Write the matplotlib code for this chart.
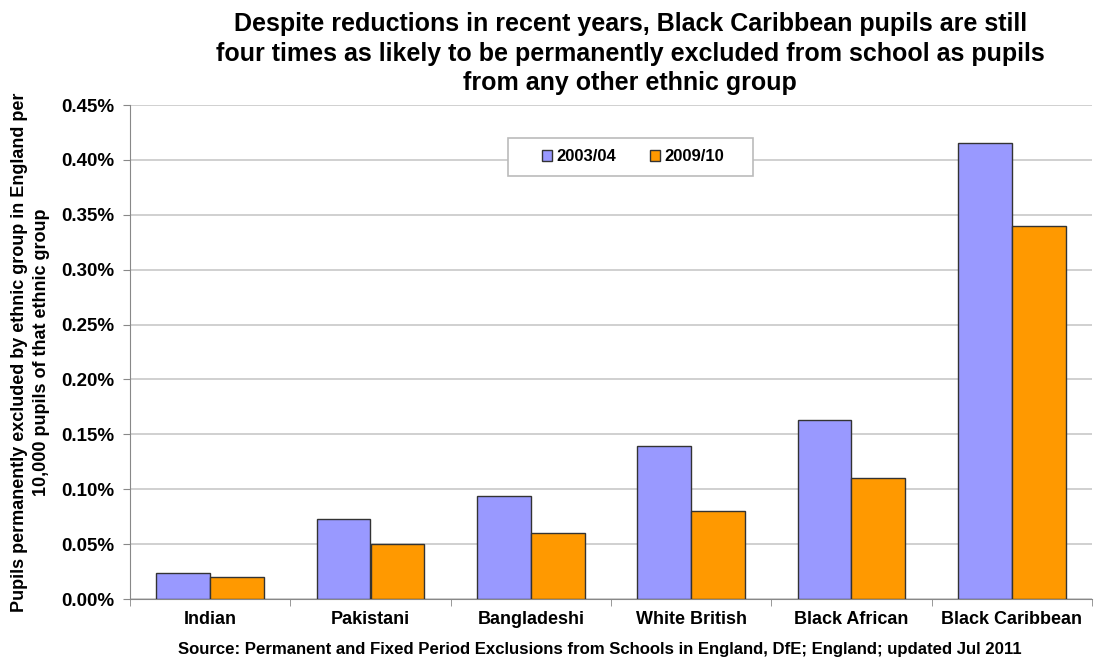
import matplotlib.pyplot as plt
import numpy as np
from matplotlib.patches import Rectangle
from matplotlib.ticker import FuncFormatter

plt.rcParams['font.family'] = ['Liberation Sans', 'DejaVu Sans']
plt.rcParams['font.weight'] = 'bold'

groups = ['Indian', 'Pakistani', 'Bangladeshi', 'White British', 'Black African', 'Black Caribbean']
rate_2003 = [0.024, 0.073, 0.094, 0.139, 0.163, 0.415]
rate_2009 = [0.020, 0.050, 0.060, 0.080, 0.110, 0.340]
series_names = ['2003/04', '2009/10']

fig = plt.figure(figsize=(10.94, 6.64), dpi=100)
ax = fig.add_axes([130 / 1094, 65 / 664, 962 / 1094, 494 / 664])

x = np.arange(len(groups))
w = 0.335
ax.bar(x - w / 2, rate_2003, w, color='#9999FF', edgecolor='#333333', linewidth=1,
       label=series_names[0], zorder=3)
ax.bar(x + w / 2, rate_2009, w, color='#FF9900', edgecolor='#333333', linewidth=1,
       label=series_names[1], zorder=3)

ax.set_xlim(-0.5, len(groups) - 0.5)
ax.set_ylim(0, 0.45)
ax.set_yticks(np.arange(0, 0.451, 0.05))
ax.yaxis.set_major_formatter(FuncFormatter(lambda v, p: f'{v:.2f}%'))
ax.yaxis.grid(True, color='#c8c8c8', linewidth=1.2, zorder=0)

ax.set_xticks(x)
ax.set_xticklabels(groups, fontsize=13, fontweight='bold')
ax.set_xticks(np.arange(-0.5, len(groups)), minor=True)
ax.tick_params(axis='x', which='major', length=0, pad=9)
ax.tick_params(axis='x', which='minor', length=5, color='#888888')
ax.tick_params(axis='y', labelsize=13.5, length=5, color='#888888', pad=6)

for side in ['top', 'right']:
    ax.spines[side].set_visible(False)
for side in ['left', 'bottom']:
    ax.spines[side].set_color('#888888')

ax.set_ylabel('Pupils permanently excluded by ethnic group in England per\n10,000 pupils of that ethnic group',
              fontsize=13, fontweight='bold', labelpad=8, linespacing=1.4)

# legend entries without their own frame, boxed by a plain rectangle
ax.add_patch(Rectangle((0.393, 0.856), 0.255, 0.077, transform=ax.transAxes,
                       facecolor='white', edgecolor='#bbbbbb', linewidth=1.2, zorder=4))
leg = ax.legend(loc='center', bbox_to_anchor=(0.523, 0.895), ncol=2, frameon=False,
                fontsize=12, handlelength=0.6, handleheight=0.6,
                borderpad=0, columnspacing=2.0, handletextpad=0.3, borderaxespad=0)
leg.set_zorder(5)

fig.suptitle('Despite reductions in recent years, Black Caribbean pupils are still\n'
             'four times as likely to be permanently excluded from school as pupils\n'
             'from any other ethnic group',
             x=0.576, y=0.982, fontsize=18, fontweight='bold', linespacing=1.3)

fig.text(0.548, 0.01, 'Source: Permanent and Fixed Period Exclusions from Schools in England, DfE; England; updated Jul 2011',
         ha='center', va='bottom', fontsize=12.1, fontweight='bold')

fig.savefig('out.png', dpi=100)
